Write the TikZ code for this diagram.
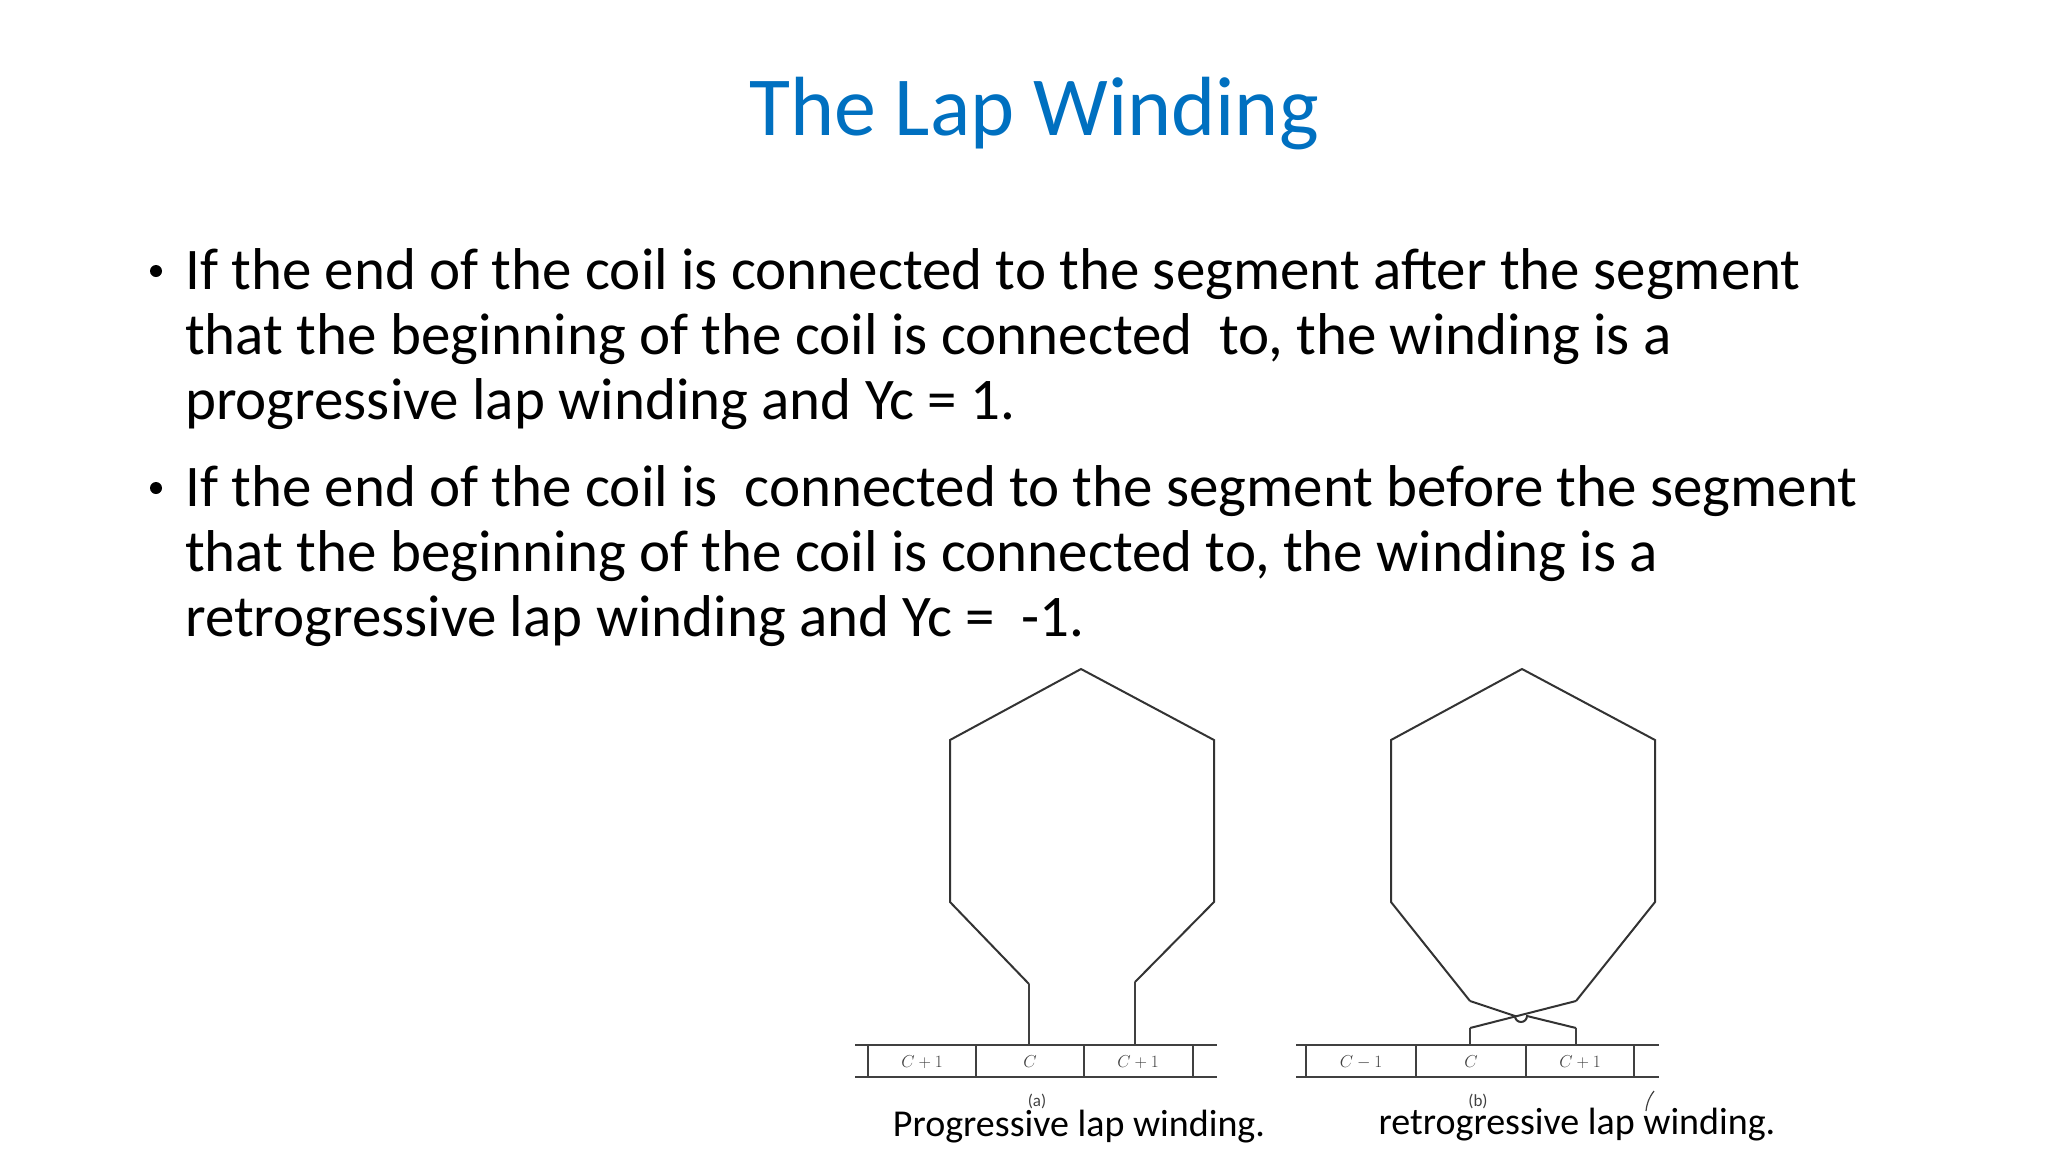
\documentclass[tikz,border=0pt]{standalone}
\usepackage{fontspec}
\setmainfont{Carlito}
\usetikzlibrary{calc}
\definecolor{titleblue}{RGB}{0,112,192}
\tikzset{
    coil/.style={line width=2pt,draw=black!80,line join=miter},
    lead/.style={line width=1.2pt,draw=black!75},
    bar/.style={line width=1.8pt,draw=black!75},
    seglabel/.style={font=\fontsize{19}{19}\selectfont\itshape,text=black!75},
    sublabel/.style={font=\fontsize{17}{17}\selectfont\rmfamily,text=black!75},
    caption/.style={font=\fontsize{38}{40}\selectfont},
    bullettext/.style={anchor=north west,align=left,inner sep=0pt,font=\fontsize{59}{65}\selectfont},
}
\begin{document}
\begin{tikzpicture}[x=1pt,y=-1pt]
    \useasboundingbox (0,0) rectangle (2048,1152);

    \node[text=titleblue,font=\fontsize{84}{90}\selectfont] (title) at (1034,114) {The Lap Winding};

    \node[bullettext] (first) at (185,248) {If the end of the coil is connected to the segment after the segment\\
        that the beginning of the coil is connected\ \ to, the winding is a\\
        progressive lap winding and Yc = 1.};
    \node[bullettext] (second) at (185,465) {If the end of the coil is\ \ connected to the segment before the segment\\
        that the beginning of the coil is connected to, the winding is a\\
        retrogressive lap winding and Yc =\ \ -1.};
    \fill (156,271) circle (6) (156,488) circle (6);

    \begin{scope}[shift={(-12,-9)}]
    % (a) progressive
    \draw[coil] (1041,993) -- (962,911) -- (962,749) -- (1093,678) -- (1226,749) -- (1226,911) -- (1147,991);
    \draw[lead] (1041,993) -- (1041,1054) (1147,991) -- (1147,1054);
    \draw[bar] (867,1054) -- (1229,1054) (867,1086) -- (1229,1086);
    \foreach \x in {880,988,1096,1205} \draw[bar] (\x,1054) -- (\x,1086);
    \node[seglabel] (pa) at (934,1071) {$C+1$};
    \node[seglabel] (pb) at (1042,1071) {$C$};
    \node[seglabel] (pc) at (1150,1071) {$C+1$};
    \node[sublabel] (suba) at (1049,1110) {(a)};
    \node[caption] (capa) at (1091,1136) {Progressive lap winding.};

    % (b) retrogressive
    \draw[coil] (1482,1010) -- (1403,911) -- (1403,749) -- (1534,678) -- (1667,749) -- (1667,911) -- (1588,1010);
    \draw[coil] (1482,1010) -- (1527,1025) arc (180:0:6) -- (1588,1037);
    \draw[coil] (1588,1010) -- (1482,1037);
    \draw[lead] (1482,1037) -- (1482,1054) (1588,1037) -- (1588,1054);
    \draw[bar] (1308,1054) -- (1671,1054) (1308,1086) -- (1671,1086);
    \foreach \x in {1318,1428,1538,1646} \draw[bar] (\x,1054) -- (\x,1086);
    \node[seglabel] (qa) at (1373,1071) {$C-1$};
    \node[seglabel] (qb) at (1483,1071) {$C$};
    \node[seglabel] (qc) at (1592,1071) {$C+1$};
    \node[sublabel] (subb) at (1490,1110) {(b)};
    \draw[lead] (1658,1120) to[bend left=15] (1666,1100);
    \node[caption] (capb) at (1589,1134) {retrogressive lap winding.};
    \end{scope}
\end{tikzpicture}
\end{document}
